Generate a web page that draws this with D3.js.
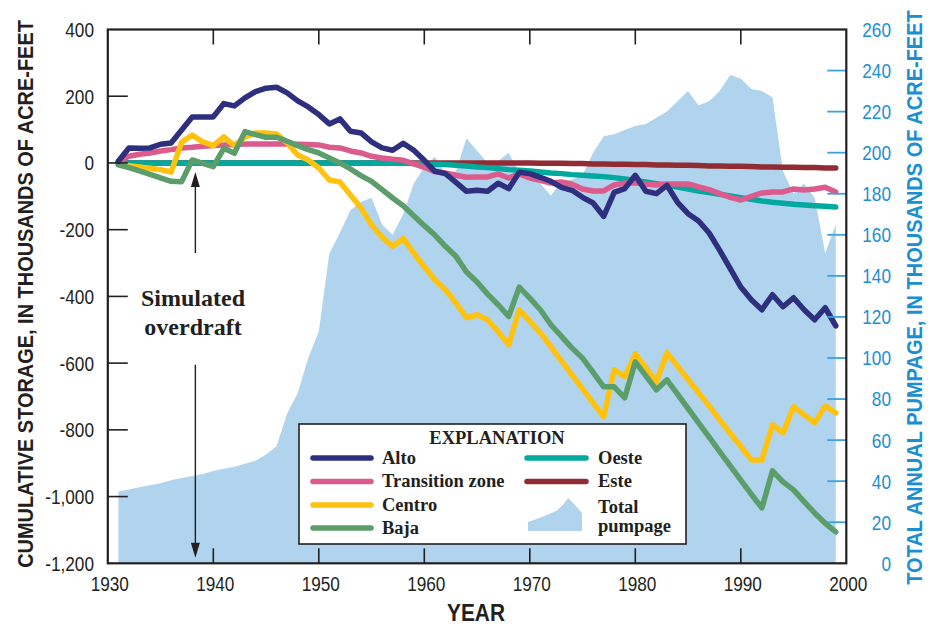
<!DOCTYPE html>
<html>
<head>
<meta charset="utf-8">
<script src="https://cdn.jsdelivr.net/npm/d3@7"></script>
<style>
  html, body { margin: 0; padding: 0; background: #fff; }
  svg { display: block; }
  .sans { font-family: "Liberation Sans", Arial, Helvetica, sans-serif; }
  .serif { font-family: "Liberation Serif", "Times New Roman", serif; font-weight: bold; }
</style>
</head>
<body>
<svg id="chart" width="931" height="634"></svg>
<script>
// ---------------- DATA ----------------
const years = d3.range(1931, 2000); // 1931..1999

const pumpage = [
  35, 36, 37, 38, 39, 40.5, 41.5, 42.5, 43.5,            // 1931-1939
  45, 46, 47, 48.5, 50, 53, 57, 73, 83, 100,             // 1940-1949
  113, 151, 161, 172, 176, 178, 165, 160, 170, 185,      // 1950-1959
  193, 198, 190, 191, 207, 201, 195, 196, 200, 190,      // 1960-1969
  188, 185, 179, 186, 187, 189, 200, 208, 209, 211,      // 1970-1979
  213, 214, 217, 220, 225, 230, 223, 225, 230, 238,      // 1980-1989
  236, 231, 230, 227, 191, 180, 185, 178, 151, 165       // 1990-1999
];

const alto = [
  5, 45, 44, 45, 56, 60, 99, 138, 138,
  138, 178, 171, 195, 214, 224, 227, 210, 186, 168,
  145, 117, 132, 95, 90, 63, 45, 38, 59, 38,
  8, -25, -32, -58, -85, -82, -85, -61, -77, -28,
  -32, -43, -55, -73, -82, -103, -120, -160, -88, -77,
  -37, -85, -92, -67, -118, -152, -174, -210, -262, -317,
  -372, -410, -440, -395, -431, -404, -440, -470, -434, -488
];

const transitionZone = [
  5, 20, 26, 30, 36, 40, 45, 47, 50,
  52, 54, 55, 57, 57, 57, 57, 57, 56, 55,
  54, 47, 45, 36, 30, 20, 15, 11, 8, -3,
  -13, -26, -30, -37, -43, -42, -42, -33, -45, -33,
  -45, -52, -60, -57, -64, -78, -84, -84, -66, -60,
  -60, -63, -66, -63, -63, -63, -72, -80, -92, -103,
  -111, -100, -90, -87, -87, -78, -81, -78, -73, -87
];

const centro = [
  -5, -8, -12, -16, -20, -27, 62, 84, 63,
  52, 78, 51, 78, 90, 90, 87, 60, 24, 9,
  -15, -51, -57, -96, -135, -186, -222, -250, -226, -270,
  -311, -350, -380, -420, -464, -455, -470, -506, -545, -440,
  -475, -509, -551, -593, -635, -677, -719, -761, -620, -641,
  -572, -614, -656, -569, -609, -649, -689, -729, -770, -810,
  -850, -890, -890, -785, -809, -731, -755, -779, -728, -749
];

const baja = [
  -6, -14, -24, -34, -45, -55, -56, 9, -1,
  -11, 44, 29, 94, 85, 77, 77, 65, 52, 40,
  30, 15, 0, -18, -38, -55, -80, -105, -128, -158,
  -188, -216, -250, -280, -327, -357, -393, -425, -460, -372,
  -405, -440, -485, -520, -555, -585, -628, -671, -671, -704,
  -596, -638, -680, -650, -693, -736, -779, -822, -865, -908,
  -951, -993, -1034, -923, -956, -980, -1015, -1049, -1080, -1106
];

const oeste = [
  0, 0, 0, 0, 0, 0, 0, 0, 0,
  0, 0, 0, 0, 0, 0, 0, 0, 0, 0,
  0, 0, 0, 0, 0, 0, 0, 0, -1, -2,
  -3, -4, -5, -7, -9, -12, -14, -17, -20, -22,
  -24, -27, -30, -32, -35, -37, -39, -41, -44, -48,
  -53, -57, -62, -67, -72, -78, -84, -89, -94, -99,
  -104, -109, -114, -118, -121, -124, -126, -128, -130, -132
];

const este = [
  0, 0, 0, 0, 0, 0, 0, 0, 0,
  0, 0, 0, 0, 0, 0, 0, 0, 0, 0,
  0, 0, 0, 0, 0, 0, 0, 0, 0, 0,
  0, 0, 0, 0, 0, 0, 0, 0, 0, 0,
  0, -1, -1, -1, -2, -2, -3, -3, -4, -4,
  -5, -5, -6, -6, -7, -7, -8, -9, -9, -10,
  -10, -11, -12, -12, -13, -13, -14, -14, -15, -15
];

const xTicks = [1930, 1940, 1950, 1960, 1970, 1980, 1990, 2000];
const yTicks = [400, 200, 0, -200, -400, -600, -800, -1000, -1200];
const y2Ticks = d3.range(0, 261, 20);

const seriesNames = ["Alto", "Transition zone", "Centro", "Baja", "Oeste", "Este"];

// ---------------- LAYOUT ----------------
const svg = d3.select("#chart");
const L = 107.8, R = 846.3, T = 29.5, B = 563.3;

const x = d3.scaleLinear().domain([1930, 2000]).range([L, R]);
const y = d3.scaleLinear().domain([-1200, 400]).range([B, T]);
const y2 = d3.scaleLinear().domain([0, 260]).range([B, T]);

const dark = "#231f20";
const blue = "#1b8fd1";
const colors = {
  "Alto": "#2e2f7f",
  "Transition zone": "#da5b8c",
  "Centro": "#ffc20e",
  "Baja": "#5c9e6b",
  "Oeste": "#00a99d",
  "Este": "#912b34",
  "area": "#b1d4ee"
};

// ---- Pumpage area ----
const areaGen = d3.area()
  .x((d, i) => x(years[i]))
  .y0(y2(0))
  .y1(d => y2(d));
svg.append("path")
  .datum(pumpage)
  .attr("d", areaGen)
  .attr("fill", colors.area);

// ---- Lines ----
const lineGen = d3.line().x((d, i) => x(years[i])).y(d => y(d));
const drawOrder = [["Este", este], ["Oeste", oeste], ["Transition zone", transitionZone],
                   ["Centro", centro], ["Baja", baja], ["Alto", alto]];
drawOrder.forEach(([name, vals]) => {
  svg.append("path")
    .datum(vals)
    .attr("d", lineGen)
    .attr("fill", "none")
    .attr("stroke", colors[name])
    .attr("stroke-width", 5.5)
    .attr("stroke-linejoin", "round")
    .attr("stroke-linecap", "round");
});

// ---- Ticks (inside) ----
const tickG = svg.append("g");
yTicks.filter(t => t > -1200 && t < 400).forEach(t => {
  tickG.append("line").attr("x1", L).attr("x2", L + 20)
    .attr("y1", y(t)).attr("y2", y(t))
    .attr("stroke", dark).attr("stroke-width", 1.6);
});
xTicks.filter(t => t > 1930 && t < 2000).forEach(t => {
  tickG.append("line").attr("x1", x(t)).attr("x2", x(t))
    .attr("y1", T).attr("y2", T + 15)
    .attr("stroke", dark).attr("stroke-width", 1.6);
  tickG.append("line").attr("x1", x(t)).attr("x2", x(t))
    .attr("y1", B).attr("y2", B - 15)
    .attr("stroke", dark).attr("stroke-width", 1.6);
});
y2Ticks.filter(t => t > 0 && t < 260).forEach(t => {
  tickG.append("line").attr("x1", R - 19).attr("x2", R)
    .attr("y1", y2(t)).attr("y2", y2(t))
    .attr("stroke", "#3aa2de").attr("stroke-width", 1.8);
});

// ---- Frame ----
svg.append("rect")
  .attr("x", L).attr("y", T).attr("width", R - L).attr("height", B - T)
  .attr("fill", "none").attr("stroke", dark).attr("stroke-width", 2.2);

// ---- Tick labels (condensed via horizontal scale) ----
const SX = 0.84;
const labG = svg.append("g").attr("class", "sans").attr("font-size", 20.5);
function condLabel(px, py, anchor, fill, txt, dy) {
  labG.append("text")
    .attr("transform", `translate(${px},${py}) scale(${SX},1)`)
    .attr("dy", dy || 0)
    .attr("text-anchor", anchor).attr("fill", fill).text(txt);
}
yTicks.forEach(t => condLabel(94, y(t), "end", dark, d3.format(",")(t).replace("−", "-"), "0.36em"));
xTicks.forEach(t => condLabel(x(t) + 2, 591, "middle", dark, t));
y2Ticks.forEach(t => condLabel(891, y2(t), "end", blue, t, "0.36em"));

// ---- Axis titles (bold condensed, scaled to measured length) ----
function fittedTitle(cx, cy, rot, len, size, fill, txt) {
  const t = svg.append("text").attr("class", "sans")
    .attr("text-anchor", "middle").attr("font-size", size).attr("font-weight", "bold")
    .attr("fill", fill).text(txt);
  const natural = t.node().getComputedTextLength();
  const s = len / natural;
  t.attr("transform", `translate(${cx},${cy}) rotate(${rot}) scale(${s},1)`);
  return t;
}
fittedTitle(33, 294, -90, 548, 22, dark, "CUMULATIVE STORAGE, IN THOUSANDS OF ACRE-FEET");
fittedTitle(922, 297.5, -90, 575, 22, blue, "TOTAL ANNUAL PUMPAGE, IN THOUSANDS OF ACRE-FEET");
fittedTitle(476, 621, 0, 58, 24, dark, "YEAR");

// ---- Simulated overdraft annotation ----
const ax = x(1938.3);
const annG = svg.append("g");
annG.append("line").attr("x1", ax).attr("x2", ax).attr("y1", y(-270)).attr("y2", y(-45))
  .attr("stroke", dark).attr("stroke-width", 1.4);
annG.append("path")
  .attr("d", `M${ax},${y(-27)} L${ax - 4.5},${y(-27) + 15} L${ax + 4.5},${y(-27) + 15} Z`)
  .attr("fill", dark);
annG.append("line").attr("x1", ax).attr("x2", ax).attr("y1", y(-605)).attr("y2", y(-1140))
  .attr("stroke", dark).attr("stroke-width", 1.4);
annG.append("path")
  .attr("d", `M${ax},${y(-1183)} L${ax - 4.5},${y(-1183) - 15} L${ax + 4.5},${y(-1183) - 15} Z`)
  .attr("fill", dark);
annG.append("text").attr("class", "serif").attr("x", 193).attr("y", 306)
  .attr("text-anchor", "middle").attr("font-size", 24).attr("fill", dark).text("Simulated");
annG.append("text").attr("class", "serif").attr("x", 193).attr("y", 335)
  .attr("text-anchor", "middle").attr("font-size", 24).attr("fill", dark).text("overdraft");

// ---- Legend ----
const lg = svg.append("g");
lg.append("rect").attr("x", 299).attr("y", 424).attr("width", 387).attr("height", 120)
  .attr("fill", "#fff").attr("stroke", dark).attr("stroke-width", 1.6);
lg.append("text").attr("class", "serif").attr("x", 497).attr("y", 444)
  .attr("text-anchor", "middle").attr("font-size", 18.5).attr("fill", dark).text("EXPLANATION");

const legItems = [
  { name: "Alto", col: 0, row: 0 },
  { name: "Transition zone", col: 0, row: 1 },
  { name: "Centro", col: 0, row: 2 },
  { name: "Baja", col: 0, row: 3 },
  { name: "Oeste", col: 1, row: 0 },
  { name: "Este", col: 1, row: 1 }
];
const rowY = [458, 481.5, 505, 528];
const colX = [[313, 371, 382], [527, 586, 598]];
legItems.forEach(it => {
  const cx = colX[it.col];
  lg.append("line").attr("x1", cx[0]).attr("x2", cx[1])
    .attr("y1", rowY[it.row]).attr("y2", rowY[it.row])
    .attr("stroke", colors[it.name]).attr("stroke-width", 5.5).attr("stroke-linecap", "round");
  lg.append("text").attr("class", "serif").attr("x", cx[2]).attr("y", rowY[it.row] + 5.5)
    .attr("font-size", 18.5).attr("fill", dark).text(it.name);
});
// pumpage glyph
lg.append("path")
  .attr("d", "M528,531 L528,522 L542,517 L556,511 L563,505 L568,498 L575,505 L580,511 L582,513 L582,531 Z")
  .attr("fill", colors.area);
lg.append("text").attr("class", "serif").attr("x", 598).attr("y", 513)
  .attr("font-size", 18.5).attr("fill", dark).text("Total");
lg.append("text").attr("class", "serif").attr("x", 598).attr("y", 532)
  .attr("font-size", 18.5).attr("fill", dark).text("pumpage");
</script>
</body>
</html>
